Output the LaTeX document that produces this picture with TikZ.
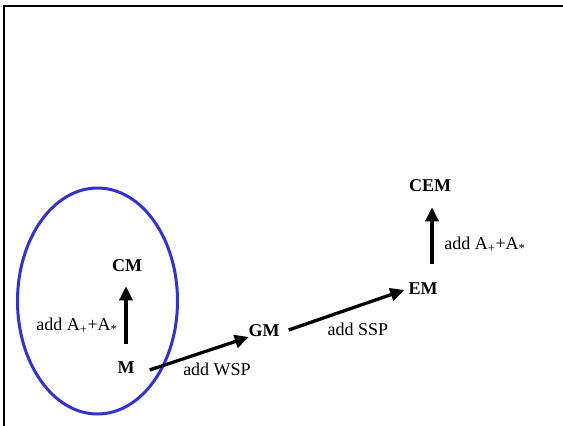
\documentclass[tikz,border=0pt]{standalone}
\usepackage{fontspec}
\setmainfont{Liberation Serif}
\usetikzlibrary{arrows.meta,calc}
\begin{document}
\begin{tikzpicture}[x=1pt,y=-1pt,
  state/.style={font=\fontsize{18}{21}\selectfont\bfseries, inner sep=1pt},
  note/.style={font=\fontsize{18}{21}\selectfont, inner sep=1pt},
  arr/.style={line width=3.3pt, -{Triangle[length=14pt,width=13pt]}},
  frameline/.style={line width=2pt, black}]
  \useasboundingbox (0,0) rectangle (563,426);
  % frame edges
  \draw[frameline] (3.5,426) -- (3.5,6) -- (563,6);
  % cluster outline
  \draw[line width=3pt, draw={rgb,255:red,51;green,51;blue,204}] (97.5,301) ellipse [x radius=80, y radius=113];
  % states
  \node[state] (CM)  at (127,266) {CM};
  \node[state] (M)   at (126,368) {M};
  \node[state] (GM)  at (264,331) {GM};
  \node[state] (EM)  at (423,289) {EM};
  \node[state] (CEM) at (430,186) {CEM};
  % transitions
  \draw[arr] ($(M.north)+(0,-17)$) -- ($(CM.south)+(-1,13)$);
  \draw[arr] ($(M.east)+(14,2)$) -- ($(GM.west)+(1.5,6)$);
  \draw[arr] ($(GM.east)+(8,-1)$) -- ($(EM.west)+(-3,1)$);
  \draw[arr] ($(EM.north)+(9,-18)$) -- ($(CEM.south)+(2,14)$);
  % labels
  \node[note] (l1) at (77,326) {add A\textsubscript{+}+A\textsubscript{*}};
  \node[note] (l2) at (217,369) {add WSP};
  \node[note] (l3) at (358,329) {add SSP};
  \node[note] (l4) at (485,245) {add A\textsubscript{+}+A\textsubscript{*}};
\end{tikzpicture}
\end{document}
